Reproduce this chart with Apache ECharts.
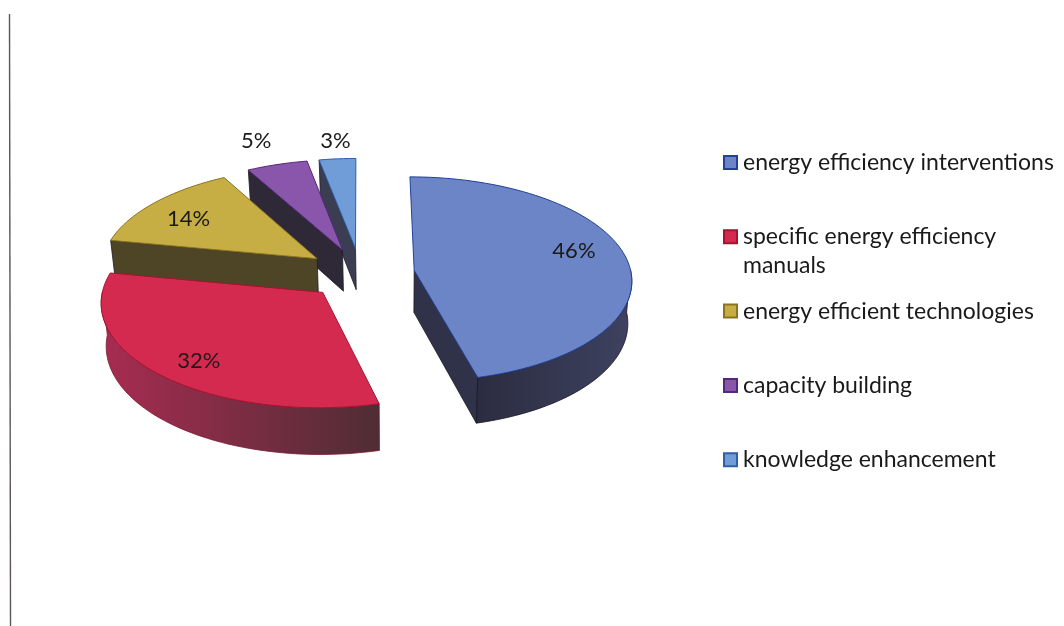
<!DOCTYPE html>
<html>
<head>
<meta charset="utf-8">
<style>html,body{margin:0;padding:0;background:#fff}#chart{width:1064px;height:626px}</style>
<script src="https://cdn.jsdelivr.net/npm/echarts@6/dist/echarts.min.js"></script>
</head>
<body>
<div id="chart"></div>
<script>
// Shares of each theme, in percent
const categories = [
  'energy efficiency interventions',
  'specific energy efficiency manuals',
  'energy efficient technologies',
  'capacity building',
  'knowledge enhancement'
];
const shares = [46, 32, 14, 5, 3];

// Slice palette: top face, edge line, cut face, outer wall gradient
const topColors = ['#6b85c6', '#d52a4f', '#c6ad44', '#8a56ab', '#709cd8'];
const edgeColors = ['#23409a', '#a8122f', '#8a7420', '#54287c', '#2f5fa8'];
const cutColors = ['#30324a', '#4a2a30', '#4e4526', '#2f2937', '#3b3e52'];
const wallColors = [
  ['#2b2c40', '#3e4260'],
  ['#a82c52', '#4f2d34'],
  ['#4e4526', '#4e4526'],
  ['#2f2937', '#2f2937'],
  ['#3b3e52', '#3b3e52']
];
// Label anchors in pie-plane polar terms: angle in degrees clockwise from the back, radius fraction
const labelAngles = [75.4, 220.5, 303.7, 339.6, 355];
const labelRadii = [0.78, 0.805, 0.756, 1.31, 1.22];

// Pie projection settings
const centerX = 360.5, centerY = 273.5;
const radiusX = 217, radiusY = 102;
const perspective = 0.086;
const thickness = 42;
const explode = 0.25;
const floorShrink = 0.017, vanishX = 397;

const rad = d => d * Math.PI / 180;

// Plane coordinates (u right, v toward the viewer) to pixels; bottom=true gives the underside
function project(u, v, bottom) {
  const p = 1 / (1 - perspective * v);
  let x = centerX + u * radiusX * p;
  let y = centerY + v * radiusY * p;
  if (bottom) {
    x = x + (vanishX - x) * floorShrink;
    y += thickness * p;
  }
  return [x, y];
}

const total = shares.reduce((a, b) => a + b, 0);
let running = 0;
const slices = shares.map(s => {
  const start = running / total * 360;
  running += s;
  const end = running / total * 360;
  const mid = (start + end) / 2;
  return {
    start, end, mid,
    ox: Math.sin(rad(mid)) * explode,
    oy: -Math.cos(rad(mid)) * explode
  };
});

function rimPoint(sl, deg, r) {
  return [sl.ox + Math.sin(rad(deg)) * (r === undefined ? 1 : r), sl.oy - Math.cos(rad(deg)) * (r === undefined ? 1 : r)];
}

function arc(sl, a, b, bottom) {
  const pts = [];
  const n = Math.max(2, Math.ceil((b - a) / 2));
  for (let i = 0; i <= n; i++) {
    const q = rimPoint(sl, a + (b - a) * i / n);
    pts.push(project(q[0], q[1], bottom));
  }
  return pts;
}

function cutFace(sl, deg, color) {
  const apexT = project(sl.ox, sl.oy, false), apexB = project(sl.ox, sl.oy, true);
  const q = rimPoint(sl, deg);
  return {
    type: 'polygon', silent: true,
    shape: { points: [apexT, project(q[0], q[1], false), project(q[0], q[1], true), apexB] },
    style: { fill: color, stroke: '#1d1a24', lineWidth: 0.8 }
  };
}

function renderSlice(i) {
  return function (params, api) {
    const sl = slices[i];
    const children = [];
    // Cut faces that turn toward the viewer
    if (Math.sin(rad(sl.start)) < -1e-6) children.push(cutFace(sl, sl.start, cutColors[i]));
    if (Math.sin(rad(sl.end)) > 1e-6) children.push(cutFace(sl, sl.end, cutColors[i]));
    // Visible part of the curved outer wall, shaded left to right
    const a = Math.max(sl.start, 90), b = Math.min(sl.end, 270);
    if (b > a) {
      const top = arc(sl, a, b, false), under = arc(sl, a, b, true).reverse();
      const w = wallColors[i];
      children.push({
        type: 'polygon', silent: true,
        shape: { points: top.concat(under) },
        style: {
          fill: new echarts.graphic.LinearGradient(0, 0, 1, 0, [
            { offset: 0, color: w[0] },
            { offset: 1, color: w[1] }
          ]),
          stroke: i === 0 ? '#15152a' : '#7a1a30',
          lineWidth: 0.8
        }
      });
    }
    // Top face
    const apex = project(sl.ox, sl.oy, false);
    children.push({
      type: 'polygon', silent: true,
      shape: { points: [apex].concat(arc(sl, sl.start, sl.end, false)) },
      style: { fill: topColors[i], stroke: edgeColors[i], lineWidth: 1 }
    });
    // Percentage label
    const lp = rimPoint(sl, labelAngles[i], labelRadii[i]);
    const pos = project(lp[0], lp[1], false);
    children.push({
      type: 'text', silent: true, x: pos[0], y: pos[1],
      style: {
        text: api.value(0) + '%', fill: '#1a1a1a',
        font: '22px Lato', align: 'center', verticalAlign: 'middle'
      }
    });
    return { type: 'group', children };
  };
}

const legendFirstLines = ['energy efficiency interventions', 'specific energy efficiency', 'energy efficient technologies', 'capacity building', 'knowledge enhancement'];

const chart = echarts.init(document.getElementById('chart'));
chart.setOption({
  backgroundColor: '#ffffff',
  animation: false,
  legend: {
    orient: 'vertical',
    left: 718,
    top: 144.5,
    icon: 'rect',
    itemWidth: 13,
    itemHeight: 13,
    itemGap: 48.3,
    selectedMode: false,
    data: categories,
    formatter: name => legendFirstLines[categories.indexOf(name)],
    textStyle: { fontFamily: 'Lato', fontSize: 23, color: '#1a1a1a', lineHeight: 26, padding: [0, 0, 0, 1] }
  },
  graphic: [
    { type: 'line', silent: true, shape: { x1: 9.5, y1: 14, x2: 10.5, y2: 626 }, style: { stroke: '#5c5658', lineWidth: 1.4 } },
    { type: 'text', silent: true, x: 743, y: 266, style: { text: 'manuals', font: '23px Lato', fill: '#1a1a1a', verticalAlign: 'middle' } }
  ],
  // Painted back to front so nearer slices cover the walls of those behind
  series: categories.map((name, i) => ({
    type: 'custom',
    name,
    coordinateSystem: 'none',
    z: 10 + Math.round(slices[i].oy * 100),
    renderItem: renderSlice(i),
    itemStyle: { color: topColors[i], borderColor: edgeColors[i], borderWidth: 1 },
    data: [[shares[i]]]
  }))
});
</script>
</body>
</html>
